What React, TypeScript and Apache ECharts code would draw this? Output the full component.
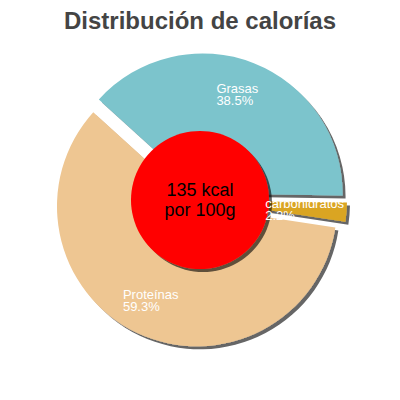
import { useEffect, useRef } from "react";
import * as echarts from "echarts";

const categories = ["Grasas", "carbohidratos", "Proteínas"];
const percents = [38.5, 2.2, 59.3];
const colors = ["#7cc4cc", "#daa520", "#eec692"];
const centerLines = ["135 kcal", "por 100g"];
const title = "Distribución de calorías";

const FONT = "Liberation Sans, Arial, sans-serif";
// small nudges of the slice labels [dx, dy]
const labelNudge = [[-3, -3], [-5, 0], [-2, 1]];

export default function App() {
  const chartRef = useRef<HTMLDivElement | null>(null);

  useEffect(() => {
    if (!chartRef.current) return;
    const chart = echarts.init(chartRef.current, undefined, { renderer: "svg" });
    const shadow = {
      shadowBlur: 0,
      shadowOffsetX: 3,
      shadowOffsetY: 3,
      shadowColor: "rgba(0,0,0,0.6)"
    };
    const base = {
      type: "pie",
      center: ["50%", "50%"],
      radius: [60, 140],
      startAngle: 137.8,
      clockwise: true,
      selectedMode: "multiple",
      selectedOffset: 7,
      avoidLabelOverlap: false,
      silent: true,
      emphasis: { disabled: true },
      labelLine: { show: false }
    };
    chart.setOption({
      animation: false,
      title: {
        text: title,
        left: "center",
        top: 3,
        textStyle: { fontSize: 24, fontWeight: "bold", color: "#444", fontFamily: FONT }
      },
      series: [
        {
          ...base,
          z: 2,
          itemStyle: { ...shadow },
          label: { show: false },
          data: categories.map((name, i) => ({
            name,
            value: percents[i],
            selected: true,
            itemStyle: { color: colors[i] }
          }))
        },
        {
          type: "pie",
          center: ["50%", "50%"],
          radius: [0, 69],
          silent: true,
          z: 3,
          emphasis: { disabled: true },
          itemStyle: { color: "#ff0000", ...shadow },
          label: {
            position: "center",
            formatter: centerLines.join("\n"),
            color: "#000",
            fontSize: 18,
            lineHeight: 20,
            fontFamily: FONT
          },
          labelLine: { show: false },
          data: [{ name: "kcal", value: 1 }]
        },
        {
          // same slices again, invisible, only to carry the labels above the red disc
          ...base,
          z: 4,
          itemStyle: { color: "rgba(0,0,0,0)" },
          label: {
            position: "inside",
            fontFamily: FONT,
            formatter: (p: any) => `{t|${p.name}}\n{t|${p.value}%}`,
            rich: {
              t: { color: "#fff", fontSize: 13, lineHeight: 12, align: "left", fontFamily: FONT }
            }
          },
          labelLayout: (p: any) => ({ dx: labelNudge[p.dataIndex][0], dy: labelNudge[p.dataIndex][1] }),
          data: categories.map((name, i) => ({
            name,
            value: percents[i],
            selected: true
          }))
        }
      ]
    });
    return () => {
      chart.dispose();
    };
  }, []);

  return (
    <div
      ref={chartRef}
      style={{ position: "fixed", left: 0, top: 0, width: 400, height: 400, background: "#fff" }}
    />
  );
}
